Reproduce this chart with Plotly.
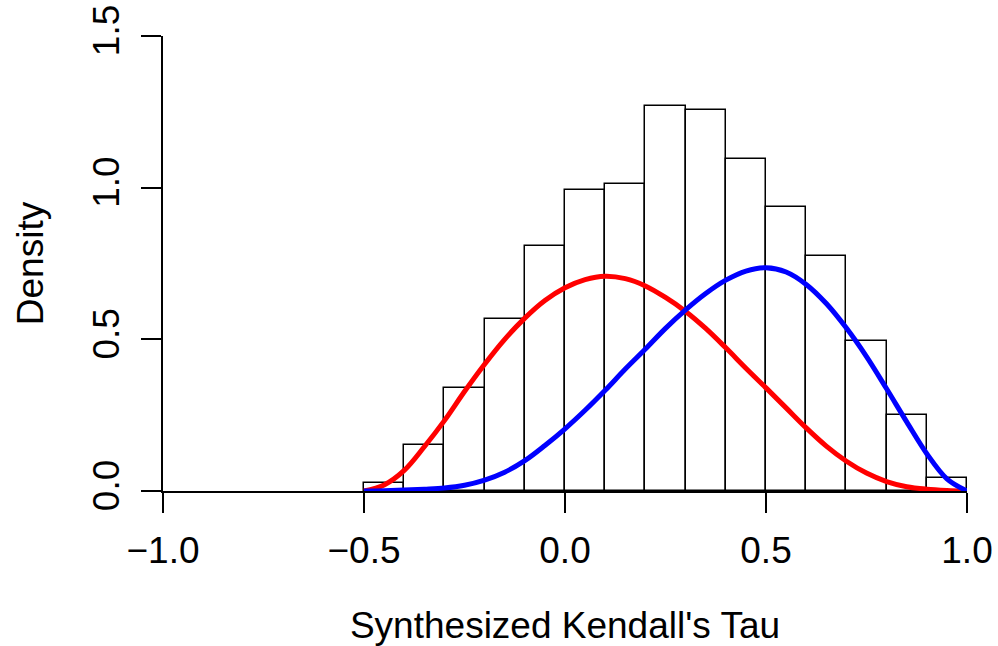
import plotly.graph_objects as go

# Histogram bins (midpoints) and densities
bin_mid = [-0.45, -0.35, -0.25, -0.15, -0.05, 0.05, 0.15, 0.25, 0.35, 0.45, 0.55, 0.65, 0.75, 0.85, 0.95]
bin_density = [0.026, 0.151, 0.339, 0.566, 0.807, 0.992, 1.013, 1.269, 1.256, 1.095, 0.936, 0.775, 0.493, 0.251, 0.042]
bin_width = 0.1

# Curves
curve_x = [-0.5, -0.45, -0.4, -0.35, -0.3, -0.25, -0.2, -0.15, -0.1, -0.05, 0.0,
           0.05, 0.1, 0.15, 0.2, 0.25, 0.3, 0.35, 0.4, 0.45, 0.5,
           0.55, 0.6, 0.65, 0.7, 0.75, 0.8, 0.85, 0.9, 0.95, 1.0]
red_y = [0.0, 0.020, 0.068, 0.146, 0.232, 0.328, 0.418, 0.500, 0.570, 0.628, 0.670,
         0.697, 0.708, 0.700, 0.676, 0.638, 0.592, 0.536, 0.472, 0.405, 0.340,
         0.274, 0.208, 0.148, 0.098, 0.059, 0.031, 0.014, 0.006, 0.002, 0.0]
blue_y = [0.0, 0.001, 0.003, 0.006, 0.010, 0.019, 0.036, 0.062, 0.100, 0.150, 0.205,
          0.266, 0.332, 0.402, 0.468, 0.536, 0.597, 0.651, 0.695, 0.725, 0.736,
          0.722, 0.681, 0.618, 0.537, 0.443, 0.337, 0.228, 0.123, 0.040, 0.0]

x_ticks = [-1.0, -0.5, 0.0, 0.5, 1.0]
x_ticktext = ["\u22121.0", "\u22120.5", "0.0", "0.5", "1.0"]
y_ticks = [0.0, 0.5, 1.0, 1.5]
y_ticktext = ["0.0", "0.5", "1.0", "1.5"]

FONT = "Liberation Sans, Arial, sans-serif"
FS = 37

fig = go.Figure()
fig.add_trace(go.Bar(
    x=bin_mid, y=bin_density, width=bin_width,
    marker=dict(color="white", line=dict(color="black", width=1.5)),
    cliponaxis=False, showlegend=False, hoverinfo="skip"))
fig.add_trace(go.Scatter(
    x=curve_x, y=red_y, mode="lines",
    line=dict(color="#ff0000", width=5, shape="spline", smoothing=1.0),
    cliponaxis=False, showlegend=False))
fig.add_trace(go.Scatter(
    x=curve_x, y=blue_y, mode="lines",
    line=dict(color="#0000ff", width=5, shape="spline", smoothing=1.0),
    cliponaxis=False, showlegend=False))

axis_common = dict(showgrid=False, zeroline=False, showline=True, linecolor="black",
                   linewidth=1.5, ticks="outside", ticklen=20, tickwidth=1.5,
                   tickcolor="black", tickfont=dict(family=FONT, size=FS, color="black"),
                   automargin=False)

fig.update_layout(
    width=998, height=646,
    margin=dict(l=163, r=31, t=36, b=155),
    paper_bgcolor="white", plot_bgcolor="white",
    bargap=0,
    font=dict(family=FONT, size=FS, color="black"),
    xaxis=dict(range=[-1, 1], tickvals=x_ticks, ticktext=x_ticktext,
               title=dict(text="Synthesized Kendall's Tau", font=dict(family=FONT, size=FS),
                          standoff=44),
               ticklabelstandoff=6,
               **axis_common),
    yaxis=dict(range=[0, 1.5], tickvals=y_ticks, ticktext=y_ticktext, tickangle=-90,
               title=dict(text="Density", font=dict(family=FONT, size=FS), standoff=32),
               ticklabelstandoff=7,
               **axis_common),
)

fig.write_html("out.html")
